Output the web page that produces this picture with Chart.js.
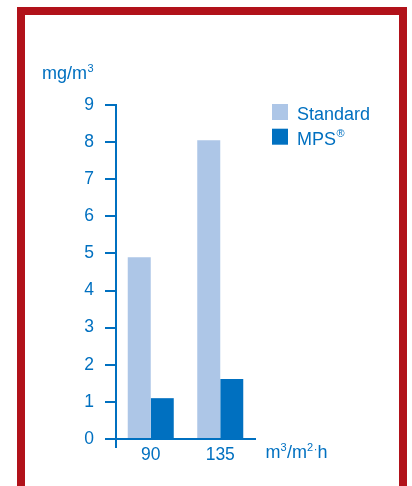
<!DOCTYPE html>
<html>
<head>
<meta charset="utf-8">
<script src="https://cdn.jsdelivr.net/npm/chart.js@4.4.1/dist/chart.umd.min.js"></script>
<style>
html,body{margin:0;padding:0;background:#fff;}
#wrap{position:absolute;left:0;top:0;width:412px;height:486px;}
</style>
</head>
<body>
<div id="wrap"><canvas id="c" width="412" height="486"></canvas></div>
<script>
const categories = ['90', '135'];
const seriesNames = ['Standard', 'MPS'];
const standardValues = [4.9, 8.05];
const mpsValues = [1.1, 1.62];
const yTickValues = [0, 1, 2, 3, 4, 5, 6, 7, 8, 9];
const yUnit = 'mg/m';
const xUnit = ['m', '3', '/m', '2', '·', 'h'];

const BLUE = '#0070c0';
const LIGHT = '#adc6e7';
const RED = '#b1121a';
const FONT = '"Liberation Sans", Arial, sans-serif';

const framePlugin = {
  id: 'frame',
  beforeDraw(chart) {
    const ctx = chart.ctx;
    ctx.save();
    ctx.fillStyle = RED;
    ctx.fillRect(17, 7, 390, 8);
    ctx.fillRect(17, 7, 8, 479);
    ctx.fillRect(399, 7, 8, 479);
    ctx.restore();
  },
  afterDraw(chart) {
    const ctx = chart.ctx;
    ctx.save();
    ctx.fillStyle = BLUE;
    ctx.textBaseline = 'alphabetic';
    ctx.textAlign = 'left';
    // y unit
    ctx.font = '18px ' + FONT;
    ctx.fillText(yUnit, 42, 79);
    let w = ctx.measureText(yUnit).width;
    ctx.font = '11px ' + FONT;
    ctx.fillText('3', 42 + w + 0.5, 72);
    // x unit
    let x = 265.5;
    const base = 458;
    xUnit.forEach((p, i) => {
      const sup = (p === '3' || p === '2');
      const dot = p === '·';
      ctx.font = (sup || dot ? '11px ' : '18px ') + FONT;
      ctx.fillText(p, x, sup ? base - 7 : (dot ? base - 5 : base));
      x += ctx.measureText(p).width + (sup ? 0.5 : 0);
    });
    // legend
    chart.data.datasets.forEach((ds, i) => {
      const sy = 104 + i * 24.7;
      ctx.fillStyle = ds.backgroundColor;
      ctx.fillRect(272, sy, 16, 16);
      ctx.fillStyle = BLUE;
      ctx.font = '18px ' + FONT;
      ctx.fillText(ds.label, 297, sy + 16);
      if (i === 1) {
        const tw = ctx.measureText(ds.label).width;
        ctx.font = '11px ' + FONT;
        ctx.fillText('®', 297 + tw + 0.5, sy + 8);
      }
    });
    ctx.restore();
  }
};

new Chart(document.getElementById('c'), {
  type: 'bar',
  data: {
    labels: categories,
    datasets: [
      { label: seriesNames[0], data: standardValues, backgroundColor: LIGHT },
      { label: seriesNames[1], data: mpsValues, backgroundColor: BLUE }
    ]
  },
  options: {
    responsive: false,
    animation: false,
    devicePixelRatio: 1,
    layout: { padding: { left: 0, right: 157, top: 105, bottom: 0 } },
    plugins: { legend: { display: false }, tooltip: { enabled: false } },
    datasets: { bar: { barPercentage: 1, categoryPercentage: 0.662 } },
    scales: {
      x: {
        afterFit(s) { s.height = 47; },
        border: { display: true, color: BLUE, width: 2 },
        grid: {
          drawOnChartArea: false, drawTicks: true, tickLength: 9, lineWidth: 2,
          color: (c) => c.index === 0 ? BLUE : 'rgba(0,0,0,0)'
        },
        ticks: { color: BLUE, font: { family: FONT, size: 17.5 }, padding: -3 }
      },
      y: {
        min: 0, max: 9,
        afterFit(s) { s.width = 116; },
        afterBuildTicks(s) { s.ticks = yTickValues.map(v => ({ value: v })); },
        border: { display: true, color: BLUE, width: 2 },
        grid: { drawOnChartArea: false, drawTicks: true, tickLength: 11, lineWidth: 2, color: BLUE },
        ticks: { color: BLUE, font: { family: FONT, size: 17.5 }, padding: 11 }
      }
    }
  },
  plugins: [framePlugin]
});
</script>
</body>
</html>
